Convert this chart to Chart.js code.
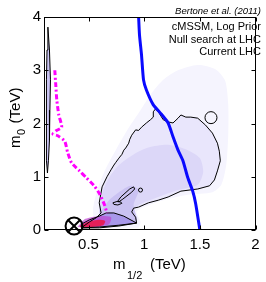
<!DOCTYPE html>
<html><head><meta charset="utf-8">
<script src="https://cdn.jsdelivr.net/npm/chart.js@4.4.1/dist/chart.umd.min.js"></script>
<style>html,body{margin:0;padding:0;background:#fff;}canvas{display:block;}</style>
</head><body>
<canvas id="c" width="266" height="282" style="width:266px;height:282px"></canvas>
<script>
// ---- axis ticks ----
const xTicks = [0.5, 1, 1.5, 2];
const xTickLabels = ['0.5', '1', '1.5', '2'];
const yTicks = [0, 1, 2, 3, 4];
const yTickLabels = ['0', '1', '2', '3', '4'];

// ---- texts ----
const citation = 'Bertone et al. (2011)';
const legendLines = ['cMSSM, Log Prior', 'Null search at LHC', 'Current LHC'];

// ---- best fit point (m1/2, m0) in TeV ----
const bestFit = [[0.370, 0.075]];

// ---- Current LHC exclusion curve (blue) ----
const currentLHC = [[0.950,4.00],[0.958,3.66],[0.976,3.29],[0.994,2.82],[1.020,2.63],[1.082,2.35],[1.144,2.20],[1.215,2.01],[1.259,1.75],[1.304,1.50],[1.348,1.30],[1.392,0.98],[1.436,0.73],[1.463,0.49],[1.500,0.00]];

// ---- Null search at LHC curve (magenta dash-dot) ----
const nullSearch = [[0.197,3.00],[0.206,2.72],[0.215,2.44],[0.233,2.16],[0.259,1.93],[0.206,1.86],[0.180,1.80],[0.224,1.77],[0.286,1.67],[0.312,1.46],[0.348,1.26],[0.419,1.11],[0.481,0.98],[0.551,0.83],[0.604,0.66],[0.640,0.49],[0.666,0.32]];

// ---- 95% contour (outer) ----
const contour95 = [[0.436,0.04],[0.507,0.15],[0.569,0.23],[0.613,0.32],[0.596,0.51],[0.622,0.81],[0.666,1.00],[0.702,1.13],[0.728,1.22],[0.745,1.27],[0.773,1.35],[0.800,1.42],[0.817,1.50],[0.834,1.54],[0.861,1.63],[0.870,1.70],[0.888,1.78],[0.923,1.88],[0.950,1.87],[0.976,1.93],[1.020,2.01],[1.056,2.07],[1.082,2.12],[1.082,2.22],[1.100,2.27],[1.127,2.22],[1.171,2.07],[1.215,2.03],[1.259,2.01],[1.304,2.10],[1.330,2.16],[1.374,2.12],[1.419,2.12],[1.481,2.10],[1.551,1.97],[1.613,1.82],[1.658,1.63],[1.675,1.48],[1.684,1.30],[1.658,1.11],[1.631,0.94],[1.587,0.83],[1.481,0.77],[1.330,0.73],[1.215,0.62],[1.127,0.56],[1.038,0.51],[0.950,0.43],[0.905,0.41],[0.888,0.34],[0.923,0.24],[0.932,0.13],[0.773,0.075],[0.596,0.04],[0.436,0.04]];

// ---- 68% contour (inner wedge) ----
const contour68 = [[0.436,0.11],[0.507,0.19],[0.596,0.26],[0.658,0.32],[0.728,0.32],[0.817,0.26],[0.932,0.13],[0.773,0.09],[0.596,0.056],[0.436,0.04],[0.436,0.11]];

// ---- thin focus-point sliver contour ----
const sliver = [[0.135,3.81],[0.149,3.38],[0.158,2.82],[0.153,2.25],[0.149,1.69],[0.140,1.31],[0.131,1.07],[0.122,1.31],[0.122,2.07],[0.122,2.82],[0.127,3.38],[0.135,3.81]];

// ---- small islands ----
const islandA = [[0.764,0.545],[0.790,0.62],[0.870,0.77],[0.905,0.81],[0.914,0.77],[0.888,0.71],[0.808,0.58],[0.773,0.53],[0.764,0.545]];
const islandB = [[0.719,0.51],[0.755,0.535],[0.790,0.526],[0.799,0.50],[0.764,0.47],[0.728,0.48],[0.719,0.51]];
const smallRing = [[0.967,0.75]];
const bigRing = [[1.600,2.11]];

// ---- posterior density shading levels ----
const densFaint = [[0.560,0.04],[0.540,0.38],[0.580,0.75],[0.650,1.13],[0.755,1.54],[0.861,1.92],[0.967,2.25],[1.056,2.54],[1.171,2.82],[1.304,3.00],[1.481,3.10],[1.640,3.02],[1.728,2.80],[1.755,2.35],[1.755,1.78],[1.737,1.22],[1.693,0.85],[1.613,0.71],[1.392,0.66],[1.171,0.56],[0.994,0.43],[0.932,0.34],[0.967,0.15],[0.950,0.04]];
const densMid = [[0.600,0.04],[0.595,0.38],[0.625,0.71],[0.684,0.98],[0.773,1.22],[0.905,1.42],[1.038,1.55],[1.215,1.60],[1.392,1.50],[1.500,1.35],[1.530,1.09],[1.481,0.85],[1.304,0.75],[1.127,0.62],[0.950,0.47],[0.888,0.32],[0.923,0.15],[0.773,0.075]];
const densHigh = [[0.551,0.11],[0.613,0.34],[0.684,0.56],[0.773,0.71],[0.879,0.83],[0.950,0.75],[0.905,0.47],[0.932,0.15],[0.728,0.09]];
const densPink = [[0.401,0.056],[0.472,0.21],[0.596,0.26],[0.702,0.24],[0.684,0.11],[0.507,0.04]];
const densRed = [[0.419,0.075],[0.489,0.15],[0.578,0.19],[0.649,0.17],[0.631,0.09],[0.525,0.056],[0.436,0.04]];

const FONT = "'Liberation Sans', Arial, Helvetica, sans-serif";
const P = a => a.map(p => ({x: p[0], y: p[1]}));

function shade(data, color) {
  return {data: P(data), showLine: true, fill: 'shape', backgroundColor: color,
    borderColor: 'transparent', borderWidth: 0, pointRadius: 0, tension: 0.25};
}
function outline(data, fillColor) {
  return {data: P(data), showLine: true, fill: fillColor ? 'shape' : false,
    backgroundColor: fillColor || 'transparent', borderColor: '#000', borderWidth: 1,
    pointRadius: 0, tension: 0};
}

const datasets = [
  {data: P(bestFit), pointStyle: 'crossRot', pointRadius: 8.5, borderColor: '#000', borderWidth: 2, backgroundColor: 'transparent', clip: false},
  {data: P(bestFit), pointStyle: 'circle', pointRadius: 8.5, borderColor: '#000', borderWidth: 2, backgroundColor: 'transparent', clip: false},
  {data: P(currentLHC), showLine: true, borderColor: '#0a0aff', borderWidth: 3, pointRadius: 0, tension: 0.2},
  {data: P(nullSearch), showLine: true, borderColor: '#ff00ff', borderWidth: 3, borderDash: [5, 2.5, 2, 2.5], pointRadius: 0, tension: 0.2},
  outline(contour95),
  outline(contour68),
  outline(sliver, 'rgba(160,150,235,0.55)'),
  outline(islandA),
  outline(islandB),
  {data: P(smallRing), pointStyle: 'circle', pointRadius: 2, borderColor: '#000', borderWidth: 1, backgroundColor: 'transparent'},
  {data: P(bigRing), pointStyle: 'circle', pointRadius: 6, borderColor: '#000', borderWidth: 1, backgroundColor: 'transparent'},
  shade(densRed, 'rgba(232,24,74,0.9)'),
  shade(densPink, 'rgba(190,70,210,0.7)'),
  shade(contour68, '#a898ea'),
  shade(densHigh, '#cac2f2'),
  shade(densMid, '#dcd7f8'),
  shade(contour95, '#e9e6fc'),
  shade(densFaint, '#f5f4fe')
];

const decor = {
  id: 'decor',
  afterDatasetsDraw(chart) {
    const {ctx, chartArea: a, scales: {x, y}} = chart;
    ctx.save();
    ctx.strokeStyle = '#000'; ctx.lineWidth = 1;
    const L = Math.round(a.left) + 0.5, R = Math.round(a.right) - 0.5;
    const T = Math.round(a.top) + 0.5, B = Math.round(a.bottom) - 0.5;
    ctx.strokeRect(L, T, R - L, B - T);
    ctx.beginPath();
    xTicks.forEach(v => {
      const px = Math.round(x.getPixelForValue(v)) + 0.5;
      ctx.moveTo(px, B); ctx.lineTo(px, B - 4);
      ctx.moveTo(px, T); ctx.lineTo(px, T + 4);
    });
    yTicks.forEach(v => {
      const py = Math.round(y.getPixelForValue(v)) + 0.5;
      ctx.moveTo(L, py); ctx.lineTo(L + 4, py);
      ctx.moveTo(R, py); ctx.lineTo(R - 4, py);
    });
    ctx.stroke();
    ctx.restore();
  },
  afterDraw(chart) {
    const ctx = chart.ctx;
    ctx.save();
    ctx.fillStyle = '#000';
    ctx.textBaseline = 'alphabetic';
    ctx.font = 'italic 9.5px ' + FONT;
    ctx.textAlign = 'right';
    ctx.fillText(citation, 261, 14);
    ctx.font = '11px ' + FONT;
    const ys = [30, 42.5, 55];
    legendLines.forEach((t, i) => ctx.fillText(t, 261, ys[i]));
    ctx.textAlign = 'left';
    ctx.font = '15px ' + FONT;
    ctx.fillText('m', 113, 269);
    ctx.font = '11px ' + FONT;
    ctx.fillText('1/2', 127, 279);
    ctx.font = '15px ' + FONT;
    ctx.fillText('(TeV)', 150, 269);
    ctx.translate(20, 148);
    ctx.rotate(-Math.PI / 2);
    ctx.font = '15px ' + FONT;
    ctx.fillText('m', 0, 0);
    let w = ctx.measureText('m').width;
    ctx.font = '11px ' + FONT;
    ctx.fillText('0', w + 0.5, 5);
    w += ctx.measureText('0').width + 6;
    ctx.font = '15px ' + FONT;
    ctx.fillText('(TeV)', w, 0);
    ctx.restore();
  }
};

new Chart(document.getElementById('c'), {
  type: 'scatter',
  data: {datasets},
  plugins: [decor],
  options: {
    responsive: false, animation: false, devicePixelRatio: 1,
    layout: {padding: {top: 17, right: 7, left: 0, bottom: 0}},
    plugins: {legend: {display: false}, tooltip: {enabled: false}},
    scales: {
      x: {
        type: 'linear', min: 0.1, max: 2,
        afterBuildTicks: s => { s.ticks = xTicks.map(v => ({value: v})); },
        afterFit: s => { s.height = 52; },
        grid: {display: false, drawTicks: false}, border: {display: false},
        ticks: {color: '#000', font: {family: FONT, size: 15}, padding: 6, maxRotation: 0, autoSkip: false,
          callback: v => xTickLabels[xTicks.indexOf(v)] ?? ''}
      },
      y: {
        type: 'linear', min: 0, max: 4,
        afterBuildTicks: s => { s.ticks = yTicks.map(v => ({value: v})); },
        afterFit: s => { s.width = 44; },
        grid: {display: false, drawTicks: false}, border: {display: false},
        ticks: {color: '#000', font: {family: FONT, size: 15}, padding: 3, autoSkip: false,
          callback: v => yTickLabels[yTicks.indexOf(v)] ?? ''}
      }
    }
  }
});
</script>
</body></html>
